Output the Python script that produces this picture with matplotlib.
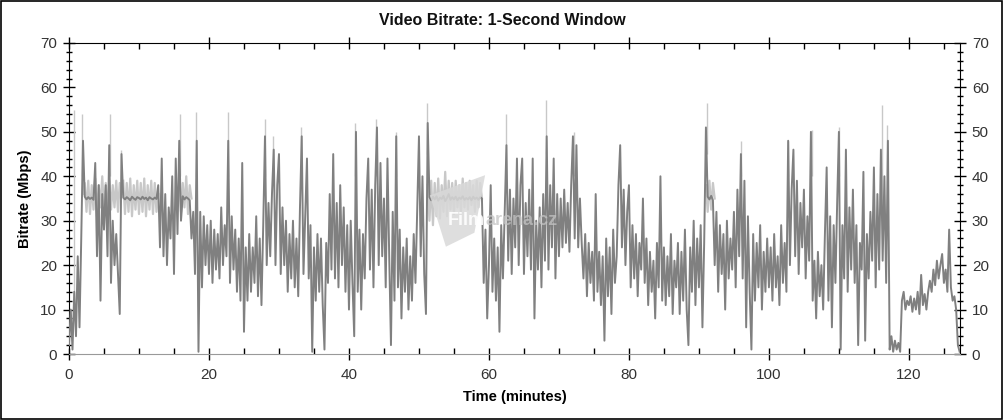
import matplotlib
matplotlib.use("Agg")
import matplotlib.pyplot as plt
from matplotlib.patches import Rectangle, Polygon
from matplotlib.ticker import MultipleLocator
import numpy as np

plt.rcParams["font.family"] = ["Liberation Sans", "DejaVu Sans"]

# ---------------------------------------------------------------------------
# data (Mbps, one value every 0.25 minute)
# ---------------------------------------------------------------------------
STEP = 0.25
bitrate = [
    2, 10, 1, 14, 4, 22, 6, 26, 48, 35.4, 34.8, 35.3, 34.9, 35.2, 34.7, 43, 22, 38, 12, 36,
    28, 38, 22, 47, 16, 30, 20, 27, 18, 9, 45, 35.2, 34.8, 35.3, 35, 34.6, 35.4, 35, 34.7, 35.3,
    35.1, 34.8, 35.4, 34.9, 35.2, 34.6, 35.3, 35, 34.8, 35.2, 34.9, 38, 24, 44, 22, 36, 20, 33, 26, 40,
    18, 44, 27, 48, 30, 35.5, 34.8, 35.3, 35, 34.6, 26, 32, 18, 48, 0.5, 32, 15, 31, 20, 29,
    18, 30, 16, 28, 19, 27, 17, 33, 20, 29, 22, 48, 16, 31, 19, 28, 14, 26, 12, 43,
    5, 24, 12, 27, 14, 24, 16, 31, 13, 26, 11, 29, 49, 20, 34, 22, 36, 46, 20, 38,
    45, 18, 33, 20, 30, 14, 27, 17, 30, 15, 26, 13, 33, 49, 18, 31, 44, 17, 29, 0.5,
    24, 12, 27, 14, 26, 11, 1, 25, 16, 36, 19, 45, 17, 34, 15, 38, 20, 33, 14, 29,
    10, 30, 16, 4, 50, 14, 28, 10, 27, 17, 35, 44, 19, 37, 15, 38, 51, 20, 43, 22,
    35, 15, 44, 22, 2, 32, 12, 49, 15, 28, 8, 24, 14, 26, 10, 22, 12, 27, 16, 33,
    49, 22, 40, 18, 9, 52, 35.3, 34.6, 35.4, 34.8, 35.5, 34.5, 35.2, 34.9, 35.6, 34.4, 35.1, 36, 34.7, 35.3,
    34.8, 35.4, 34.6, 35.2, 34.9, 35.5, 34.7, 35.1, 34.8, 35.3, 34.6, 35.4, 34.9, 35.2, 34.7, 35.3, 35, 16, 28, 8,
    20, 38, 14, 26, 12, 24, 5, 29, 17, 32, 47, 21, 37, 18, 35, 24, 44, 20, 38, 44,
    18, 34, 22, 37, 19, 44, 8, 30, 19, 33, 15, 36, 21, 49, 19, 38, 24, 44, 17, 36,
    22, 35, 24, 37, 25, 34, 23, 38, 49, 26, 47, 24, 35, 25, 17, 27, 13, 25, 16, 23,
    12, 36, 14, 23, 11, 22, 3, 26, 13, 24, 9, 28, 16, 22, 38, 47, 24, 37, 20, 32,
    38, 15, 29, 17, 27, 13, 25, 19, 35, 16, 26, 11, 23, 14, 21, 8, 25, 15, 40, 12,
    24, 11, 22, 13, 27, 9, 21, 15, 25, 9, 23, 12, 28, 10, 2, 24, 14, 30, 11, 26,
    15, 29, 6, 25, 51, 35.4, 34.8, 35.6, 34.6, 20, 32, 14, 29, 18, 27, 10, 30, 17, 26, 19,
    32, 15, 37, 22, 45, 17, 39, 6, 31, 14, 1, 27, 12, 25, 15, 29, 10, 23, 14, 26,
    15, 24, 12, 27, 15, 22, 11, 29, 16, 25, 14, 48, 20, 37, 46, 22, 39, 18, 34, 24,
    37, 17, 31, 21, 50, 12, 21, 8, 23, 13, 20, 10, 27, 42, 12, 31, 6, 29, 16, 34,
    50, 1, 29, 17, 46, 14, 33, 19, 37, 16, 29, 2, 25, 19, 41, 3, 27, 17, 32, 21,
    42, 15, 36, 19, 46, 21, 40, 16, 48, 1, 4, 0.5, 3, 1, 2.5, 0.5, 12, 14, 10, 12,
    11, 13, 9.5, 12.5, 10, 14, 9, 17.8, 11, 13.5, 10, 14, 16.5, 14, 19, 15.5, 21, 17, 20, 22.5,
    16, 19, 14, 28, 15, 12, 13, 10, 2, 0.5,
]

# light-grey band where the encoder sat near a constant rate (start minute, values)
band_starts = [2.0, 7.75, 15.75, 51.25, 91.0]
band_values = [
    [36, 38.5, 32, 39, 31.5, 38, 32.5, 39.5, 31, 38, 33, 40, 32, 38.5, 31.5, 39, 32.5, 38, 33, 39, 32, 38.5, 36],
    [39, 31.5, 38.5, 32, 39.5, 31, 38, 32.5, 39, 31.5, 38.5, 32, 39.5, 31, 38, 32.5, 39, 31.5, 38.5, 32, 36],
    [39, 32, 38.5, 33, 40, 31.5, 38, 35],
    [38, 30, 39, 29, 38.5, 31, 39.5, 30.5, 38, 32, 41, 31, 39, 32.5, 38.5, 31.5,
     39, 33, 38, 32, 39.5, 33, 38.5, 32.5, 39, 33.5, 38, 32, 39, 33, 38.5, 35],
    [38, 32, 39, 32.5, 38.5, 35],
]

# light-grey peaks that rise above the dark trace
peak_t = [0.75, 1.9, 5.8, 7.4, 15.8, 18.1, 22.7, 28.0, 29.2, 33.2, 40.9, 43.9, 46.7,
          51.15, 62.5, 68.2, 72.1, 91.1, 96.0, 102.7, 106.1, 110.0, 116.1, 116.9]
peak_top = [55, 54, 54, 46, 54, 54.5, 54.5, 52.8, 49, 51, 52, 53, 50,
            56.5, 54, 57.2, 50, 56.4, 48, 48, 50.5, 51, 56, 51.5]
peak_base = [10, 40, 40, 35, 40, 40, 40, 40, 40, 40, 40, 40, 40,
             45, 40, 45, 40, 45, 40, 40, 40, 40, 30, 40]

DARK = "#808080"
LIGHT = "#c8c8c8"

fig = plt.figure(figsize=(10.04, 4.2), dpi=100)
ax = fig.add_axes([69 / 1004, 1 - 354 / 420, (960 - 69) / 1004, (354 - 43) / 420])

for start, vals in zip(band_starts, band_values):
    t = start + STEP * np.arange(len(vals))
    ax.plot(t, vals, color=LIGHT, lw=1.6, zorder=2)
ax.vlines(peak_t, peak_base, peak_top, color=LIGHT, lw=1.0, zorder=2)

t = STEP * np.arange(len(bitrate))
ax.plot(t, bitrate, color=DARK, lw=1.4, zorder=3)

# watermark (drawn over the data, like the original stamp)
ax.add_patch(Polygon([(0.405, 0.51), (0.467, 0.575), (0.455, 0.39), (0.423, 0.345)],
                     closed=True, transform=ax.transAxes, facecolor="#d9d9d9",
                     edgecolor="none", alpha=0.85, zorder=4))
ax.text(0.467, 0.43, "Film", transform=ax.transAxes, ha="right", va="center",
        fontsize=13, weight="bold", color="white", alpha=0.9, zorder=5)
ax.text(0.467, 0.43, "arena.cz", transform=ax.transAxes, ha="left", va="center",
        fontsize=13, weight="bold", color="#c4c4c4", alpha=0.75, zorder=5)

ax.set_xlim(0, 127.3)
ax.set_ylim(0, 70)

ax.xaxis.set_major_locator(MultipleLocator(20))
ax.xaxis.set_minor_locator(MultipleLocator(5))
ax.yaxis.set_major_locator(MultipleLocator(10))
ax.yaxis.set_minor_locator(MultipleLocator(2))
ax.tick_params(axis="y", which="major", direction="inout", length=9, width=1,
               left=True, right=True, labelleft=True, labelright=True,
               labelsize=11, labelcolor="#333333", pad=4)
ax.tick_params(axis="y", which="minor", direction="inout", length=5, width=1,
               left=True, right=True)
ax.tick_params(axis="x", which="major", direction="inout", length=8, width=1,
               top=True, bottom=True, labelsize=11, labelcolor="#333333", pad=6)
ax.tick_params(axis="x", which="minor", direction="in", length=4, width=1,
               top=True, bottom=True)

for side in ("left", "right", "top"):
    ax.spines[side].set_color("black")
ax.spines["bottom"].set_color("#999999")

ax.set_xlabel("Time (minutes)", fontsize=10.5, weight="bold", labelpad=6)
ax.set_ylabel("Bitrate (Mbps)", fontsize=10.5, weight="bold", labelpad=6)
fig.text(0.5, 0.952, "Video Bitrate: 1-Second Window", ha="center", va="center",
         fontsize=11.5, weight="bold", color="#111111")

fig.add_artist(Rectangle((0.001, 0.002), 0.997, 0.995, transform=fig.transFigure,
                         fill=False, edgecolor="black", lw=1.2))

fig.savefig("out.png", dpi=100)
